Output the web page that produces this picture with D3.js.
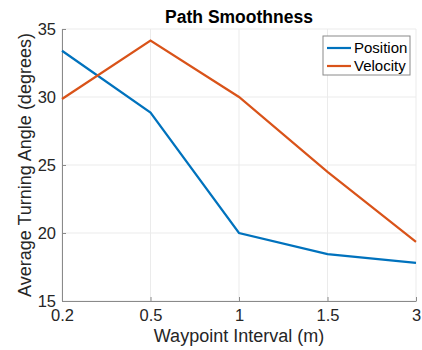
<!DOCTYPE html>
<html>
<head>
<meta charset="utf-8">
<script src="https://d3js.org/d3.v7.min.js"></script>
<style>
  body { margin: 0; background: #fff; }
  svg { font-family: "Liberation Sans", Arial, Helvetica, sans-serif; }
</style>
</head>
<body>
<div id="chart"></div>
<script>
// data
var intervals = ["0.2", "0.5", "1", "1.5", "3"];
var position = [33.4, 28.85, 20.0, 18.45, 17.8];
var velocity = [29.85, 34.15, 30.0, 24.5, 19.35];
var yTicks = [15, 20, 25, 30, 35];

var width = 422, height = 350;
var margin = {top: 29, right: 6, bottom: 49, left: 62};

var svg = d3.select("#chart").append("svg")
    .attr("width", width)
    .attr("height", height);

var x = d3.scalePoint()
    .domain(intervals)
    .range([margin.left, width - margin.right]);

var y = d3.scaleLinear()
    .domain([15, 35])
    .range([height - margin.bottom, margin.top]);

// grid lines
svg.append("g")
    .selectAll("line.vg")
    .data(intervals)
    .enter().append("line")
    .attr("x1", function(d) { return x(d); })
    .attr("x2", function(d) { return x(d); })
    .attr("y1", y(15))
    .attr("y2", y(35))
    .attr("stroke", "#ebebeb")
    .attr("stroke-width", 1);

svg.append("g")
    .selectAll("line.hg")
    .data(yTicks)
    .enter().append("line")
    .attr("x1", x.range()[0])
    .attr("x2", x.range()[1])
    .attr("y1", function(d) { return y(d); })
    .attr("y2", function(d) { return y(d); })
    .attr("stroke", "#ebebeb")
    .attr("stroke-width", 1);

// axes (ticks inward like matlab)
var xAxis = svg.append("g")
    .attr("transform", "translate(0," + y(15) + ")")
    .call(d3.axisBottom(x).tickSizeInner(-4).tickSizeOuter(0).tickPadding(8));

var yAxis = svg.append("g")
    .attr("transform", "translate(" + margin.left + ",0)")
    .call(d3.axisLeft(y).tickValues(yTicks).tickSizeInner(-4).tickSizeOuter(0).tickPadding(6));

[xAxis, yAxis].forEach(function(a) {
    a.select(".domain").attr("stroke", "#8a8a8a");
    a.selectAll(".tick line").attr("stroke", "#8a8a8a");
    a.selectAll(".tick text")
        .attr("fill", "#262626")
        .style("font-size", "16.5px")
        .style("font-family", "'Liberation Sans', Arial, sans-serif");
});

// lines
var line = d3.line()
    .x(function(d, i) { return x(intervals[i]); })
    .y(function(d) { return y(d); });

svg.append("path")
    .datum(position)
    .attr("d", line)
    .attr("fill", "none")
    .attr("stroke", "#0072BD")
    .attr("stroke-width", 2.2);

svg.append("path")
    .datum(velocity)
    .attr("d", line)
    .attr("fill", "none")
    .attr("stroke", "#D95319")
    .attr("stroke-width", 2.2);

// title and labels
svg.append("text")
    .attr("x", (x.range()[0] + x.range()[1]) / 2)
    .attr("y", 23)
    .attr("text-anchor", "middle")
    .attr("font-weight", "bold")
    .attr("font-size", "17.5px")
    .attr("fill", "#000")
    .text("Path Smoothness");

svg.append("text")
    .attr("x", (x.range()[0] + x.range()[1]) / 2)
    .attr("y", 342)
    .attr("text-anchor", "middle")
    .attr("font-size", "18px")
    .attr("fill", "#262626")
    .text("Waypoint Interval (m)");

svg.append("text")
    .attr("transform", "translate(31," + ((y(15) + y(35)) / 2) + ") rotate(-90)")
    .attr("text-anchor", "middle")
    .attr("font-size", "18px")
    .attr("fill", "#262626")
    .text("Average Turning Angle (degrees)");

// legend
var legend = svg.append("g").attr("transform", "translate(323,36)");
legend.append("rect")
    .attr("width", 87)
    .attr("height", 39)
    .attr("fill", "#fff")
    .attr("stroke", "#8a8a8a")
    .attr("stroke-width", 1);

var entries = [["Position", "#0072BD"], ["Velocity", "#D95319"]];
entries.forEach(function(e, i) {
    var yy = 12 + i * 18;
    legend.append("line")
        .attr("x1", 4).attr("x2", 28)
        .attr("y1", yy).attr("y2", yy)
        .attr("stroke", e[1])
        .attr("stroke-width", 2.2);
    legend.append("text")
        .attr("x", 31)
        .attr("y", yy + 5)
        .attr("font-size", "15px")
        .attr("fill", "#000")
        .text(e[0]);
});
</script>
</body>
</html>
